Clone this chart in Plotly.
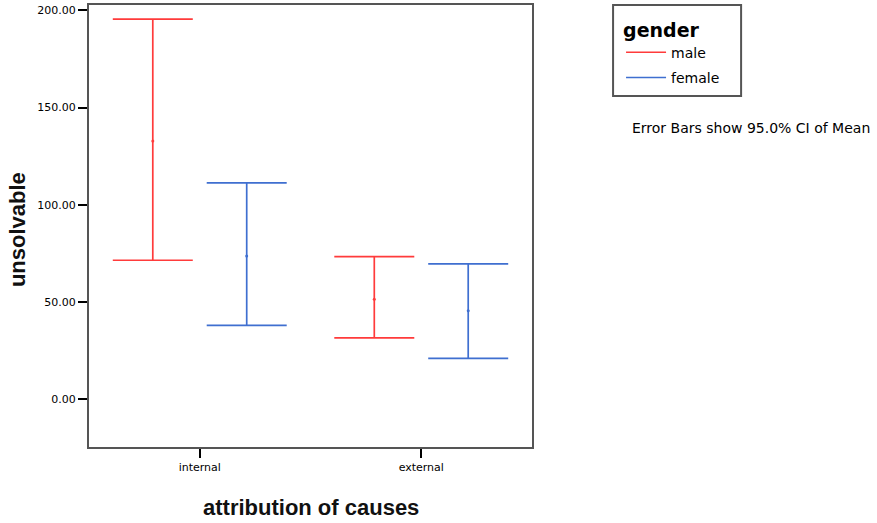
import plotly.graph_objects as go

categories = ["internal", "external"]
cat_pos = [0, 1]
genders = ["male", "female"]
means = {"male": [132.8, 51.5], "female": [73.7, 45.5]}
upper = {"male": [195.4, 73.4], "female": [111.3, 69.6]}
lower = {"male": [71.5, 31.6], "female": [38.0, 21.1]}
offsets = {"male": -0.212, "female": 0.212}
colors = {"male": "#FF3B3B", "female": "#3F6FD0"}
y_ticks = [0, 50, 100, 150, 200]
y_ticktext = ["0.00", "50.00", "100.00", "150.00", "200.00"]

fig = go.Figure()
for g in genders:
    xs = [p + offsets[g] for p in cat_pos]
    fig.add_trace(go.Scatter(
        x=xs, y=means[g], mode="markers",
        marker=dict(color=colors[g], size=3),
        error_y=dict(type="data", symmetric=False,
                     array=[u - m for u, m in zip(upper[g], means[g])],
                     arrayminus=[m - l for m, l in zip(means[g], lower[g])],
                     color=colors[g], thickness=1.7, width=40),
        showlegend=False, hoverinfo="skip"))
    fig.add_trace(go.Scatter(x=[None], y=[None], mode="lines", name=g,
                             legendgroup=g,
                             line=dict(color=colors[g], width=1.5)))

tick_font = dict(family="DejaVu Sans, sans-serif", size=11, color="black")
title_font = dict(family="Liberation Sans, Arial, sans-serif", size=22, color="#111111")

fig.update_layout(
    width=877, height=523,
    margin=dict(l=89, r=345, t=5, b=76),
    paper_bgcolor="white", plot_bgcolor="white",
    font=dict(family="DejaVu Sans, sans-serif", color="black"),
    xaxis=dict(range=[-0.5, 1.5], tickvals=cat_pos, ticktext=categories,
               showgrid=False, zeroline=False, showline=True, mirror=True,
               linecolor="#555555", linewidth=2, ticks="outside", ticklen=9,
               tickwidth=2, tickcolor="black", tickfont=tick_font,
               automargin=False),
    yaxis=dict(range=[-24.5, 202.7], tickvals=y_ticks, ticktext=y_ticktext,
               showgrid=False, zeroline=False, showline=True, mirror=True,
               linecolor="#555555", linewidth=2, ticks="outside", ticklen=9,
               tickwidth=2, tickcolor="black", tickfont=tick_font,
               automargin=False),
    legend=dict(x=1.201, y=0.984, xanchor="left", yanchor="top",
                borderwidth=0, bgcolor="rgba(0,0,0,0)",
                title=dict(text="<b>gender</b>",
                           font=dict(family="DejaVu Sans, sans-serif", size=19)),
                font=dict(family="DejaVu Sans, sans-serif", size=14),
                itemwidth=40, tracegroupgap=4),
    shapes=[dict(type="rect", xref="paper", yref="paper",
                 x0=1.183, x1=1.472, y0=0.794, y1=1.0,
                 line=dict(color="#555555", width=2))],
    annotations=[
        dict(text="Error Bars show 95.0% CI of Mean",
             xref="paper", yref="paper", x=1.221, y=0.722,
             xanchor="left", yanchor="middle", showarrow=False,
             font=dict(family="DejaVu Sans, sans-serif", size=14, color="black")),
        dict(text="<b>attribution of causes</b>", xref="paper", yref="paper",
             x=0.5, y=-0.136, xanchor="center", yanchor="middle",
             showarrow=False, font=title_font),
        dict(text="<b>unsolvable</b>", xref="paper", yref="paper",
             x=-0.160, y=0.491, xanchor="center", yanchor="middle",
             textangle=-90, showarrow=False, font=title_font),
    ],
)

fig.write_html("out.html", config={"displayModeBar": False},
               post_script="document.body.style.margin='0';")
